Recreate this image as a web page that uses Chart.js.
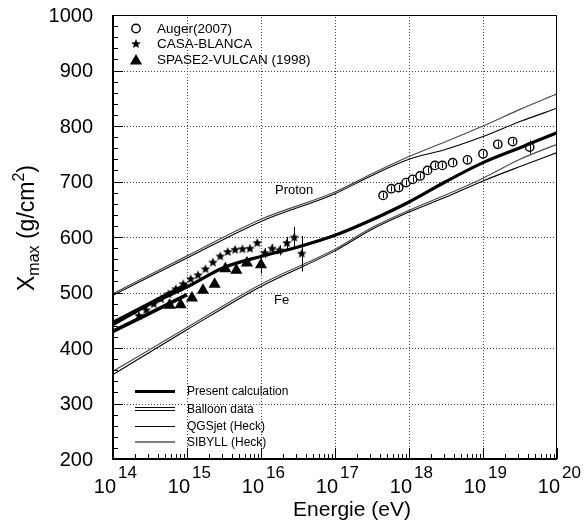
<!DOCTYPE html>
<html><head><meta charset="utf-8">
<script src="https://cdn.jsdelivr.net/npm/chart.js@4/dist/chart.umd.min.js"></script>
<style>html,body{margin:0;padding:0;background:#fff;}canvas{display:block}</style>
</head><body>
<canvas id="c" width="584" height="520"></canvas>
<script>
// ---------- data (energies as log10(E/eV), Xmax in g/cm^2) ----------
const xTickExps = [14, 15, 16, 17, 18, 19, 20];
const yTickValues = [200, 300, 400, 500, 600, 700, 800, 900, 1000];

const presentLogE = [14, 14.5, 15, 15.5, 16, 16.5, 17, 17.5, 18, 18.5, 19, 19.5, 20];
const presentXmax = [442, 479, 510, 545, 565, 582, 603, 631, 663, 700, 734, 761, 788];

const balloonLogE = [14, 15];
const balloonUpper = [446, 515];
const balloonLower = [430, 496];

const modelLogE = [14, 15, 16, 17, 17.5, 18, 18.5, 19, 19.5, 20];
const protonSibyll = [498, 566, 632, 681, 714, 745, 772, 800, 830, 858];
const protonQgsjet = [495, 562, 628, 678, 711, 740, 758, 781, 808, 832];
const ironSibyll = [358, 437, 515, 578, 617, 648, 676, 706, 740, 767];
const ironQgsjet = [352, 433, 511, 575, 614, 645, 672, 701, 727, 752];

const augerLogE = [17.65, 17.76, 17.86, 17.96, 18.05, 18.15, 18.25, 18.35, 18.45, 18.59, 18.79, 19.0, 19.2, 19.4, 19.63];
const augerXmax = [675, 687, 689, 698, 704, 710, 720, 729, 729, 734, 739, 750, 767, 772, 762];
const augerErr  = [5, 5, 5, 5, 5, 5, 5, 5, 5, 5, 5, 5, 5, 5, 12];

const casaLogE = [14.35, 14.45, 14.55, 14.65, 14.75, 14.85, 14.95, 15.05, 15.15, 15.25, 15.35, 15.45, 15.55, 15.65, 15.75, 15.85, 15.95, 16.05, 16.15, 16.25, 16.35, 16.45, 16.55];
const casaXmax = [458, 468, 479, 488, 497, 506, 515, 524, 531, 542, 554, 565, 573, 577, 578, 579, 589, 571, 579, 576, 589, 599, 570];
const casaErr  = [0, 0, 0, 0, 0, 0, 0, 0, 0, 0, 0, 0, 0, 0, 0, 0, 0, 9, 8, 9, 11, 19, 32];

const spaseLogE = [14.765, 14.914, 15.067, 15.216, 15.373, 15.518, 15.667, 15.81, 16.0];
const spaseXmax = [477, 478, 490, 504, 515, 543, 540, 553, 550];
const spaseErr  = [0, 0, 0, 0, 0, 0, 0, 0, 16];

// ---------- helpers ----------
const pts = (le, v) => le.map((l, i) => ({ x: Math.pow(10, l), y: v[i] }));
const FONT = '"Liberation Sans", Arial, Helvetica, sans-serif';
const SIB_COLOR = '#4a4a4a';

function makeStar(r) {
  const c = document.createElement('canvas');
  const s = Math.ceil(r * 2 + 2);
  c.width = c.height = s;
  const g = c.getContext('2d');
  g.beginPath();
  for (let i = 0; i < 10; i++) {
    const a = -Math.PI / 2 + i * Math.PI / 5;
    const rr = (i % 2) ? r * 0.45 : r;
    g.lineTo(s / 2 + rr * Math.cos(a), s / 2 + rr * Math.sin(a));
  }
  g.closePath();
  g.fillStyle = '#000';
  g.fill();
  return c;
}
const starImg = makeStar(5);

const lineDs = (label, data, color, width) => ({
  label, data, borderColor: color, borderWidth: width, pointRadius: 0,
  fill: false, cubicInterpolationMode: 'monotone', backgroundColor: color
});

const datasets = [
  lineDs('Balloon upper outer', pts(balloonLogE, balloonUpper), '#000', 3.6),
  lineDs('Balloon upper inner', pts(balloonLogE, balloonUpper), '#fff', 1.4),
  lineDs('Balloon lower outer', pts(balloonLogE, balloonLower), '#000', 3.6),
  lineDs('Balloon lower inner', pts(balloonLogE, balloonLower), '#fff', 1.4),
  lineDs('Proton SIBYLL', pts(modelLogE, protonSibyll), SIB_COLOR, 1.2),
  lineDs('Proton QGSjet', pts(modelLogE, protonQgsjet), '#000', 1.1),
  lineDs('Fe SIBYLL', pts(modelLogE, ironSibyll), SIB_COLOR, 1.2),
  lineDs('Fe QGSjet', pts(modelLogE, ironQgsjet), '#000', 1.1),
  lineDs('Present calculation', pts(presentLogE, presentXmax), '#000', 3.2),
  { label: 'Auger(2007)', data: pts(augerLogE, augerXmax), showLine: false,
    pointStyle: 'circle', pointRadius: 4.2, pointBorderWidth: 1.4,
    pointBorderColor: '#000', pointBackgroundColor: '#fff', errs: augerErr },
  { label: 'CASA-BLANCA', data: pts(casaLogE, casaXmax), showLine: false,
    pointStyle: starImg, pointRadius: 5, errs: casaErr },
  { label: 'SPASE2-VULCAN (1998)', data: pts(spaseLogE, spaseXmax), showLine: false,
    pointStyle: 'triangle', pointRadius: 7, pointBorderWidth: 0,
    pointBackgroundColor: '#000', pointBorderColor: '#000', errs: spaseErr }
];

// dotted lines drawn as 1px dots
function dotsH(ctx, x0, x1, py) { for (let xx = x0 + 2; xx < x1 - 1; xx += 3) ctx.fillRect(xx, py, 1, 1); }
function dotsV(ctx, y0, y1, px) { for (let yy = y0 + 2; yy < y1 - 1; yy += 3) ctx.fillRect(px, yy, 1, 1); }

// ---------- plugin: grid, frame, ticks, labels, legends, error bars ----------
const deco = {
  id: 'deco',
  beforeDatasetsDraw(chart) {
    const ctx = chart.ctx, a = chart.chartArea, x = chart.scales.x, y = chart.scales.y;
    ctx.save();
    ctx.fillStyle = '#444';
    xTickExps.slice(1, -1).forEach(e => {
      const px = Math.round(x.getPixelForValue(Math.pow(10, e)));
      dotsV(ctx, Math.round(a.top), Math.round(a.bottom), px);
    });
    yTickValues.slice(1, -1).forEach(v => {
      const py = Math.round(y.getPixelForValue(v));
      dotsH(ctx, Math.round(a.left), Math.round(a.right), py);
    });
    ctx.restore();
  },
  afterDatasetsDraw(chart) {
    const ctx = chart.ctx, a = chart.chartArea, x = chart.scales.x, y = chart.scales.y;
    ctx.save();
    // error bars
    ctx.save();
    ctx.beginPath(); ctx.rect(a.left, a.top, a.right - a.left, a.bottom - a.top); ctx.clip();
    ctx.fillStyle = '#000';
    chart.data.datasets.forEach(ds => {
      if (!ds.errs) return;
      ds.data.forEach((p, i) => {
        const e = ds.errs[i];
        if (!e) return;
        const px = Math.round(x.getPixelForValue(p.x));
        const y0 = y.getPixelForValue(p.y + e), y1 = y.getPixelForValue(p.y - e);
        ctx.fillRect(px, y0, 1, y1 - y0);
      });
    });
    ctx.restore();

    ctx.fillStyle = '#000';
    const L = Math.round(a.left), R = Math.round(a.right), T = Math.round(a.top), B = Math.round(a.bottom);
    // frame
    ctx.fillRect(L - 1, T, 2, B - T + 1);
    ctx.fillRect(R - 1, T, 1, B - T + 1);
    ctx.fillRect(L - 1, T, R - L + 1, 1);
    ctx.fillRect(L - 1, B - 1, R - L + 1, 2);

    // y ticks (inside): major every 100, minor every 20
    for (let v = yTickValues[0]; v <= yTickValues[yTickValues.length - 1]; v += 20) {
      const py = Math.round(y.getPixelForValue(v));
      const major = (v % 100 === 0);
      ctx.fillRect(L, py, major ? 10 : 5, 1);
    }
    // x ticks (inside): decades major, 2..9 minor
    for (let k = 0; k < xTickExps.length; k++) {
      const e = xTickExps[k];
      const px = Math.round(x.getPixelForValue(Math.pow(10, e)));
      ctx.fillRect(px, B - 11, 1, 11);
      if (k < xTickExps.length - 1) {
        for (let m = 2; m <= 9; m++) {
          const pm = Math.round(x.getPixelForValue(m * Math.pow(10, e)));
          ctx.fillRect(pm, B - 5, 1, 5);
        }
      }
    }

    // y tick labels
    ctx.font = '20px ' + FONT;
    ctx.textAlign = 'right'; ctx.textBaseline = 'middle';
    yTickValues.forEach(v => ctx.fillText(String(v), 93, y.getPixelForValue(v) + 1));
    // x tick labels 10^n
    xTickExps.forEach(e => {
      const px = x.getPixelForValue(Math.pow(10, e));
      ctx.textBaseline = 'alphabetic';
      ctx.font = '20px ' + FONT; ctx.textAlign = 'right';
      ctx.fillText('10', px + 3, 493);
      ctx.font = '17px ' + FONT; ctx.textAlign = 'left';
      ctx.fillText(String(e), px + 5, 478);
    });

    // axis titles
    ctx.font = '21px ' + FONT; ctx.textAlign = 'center'; ctx.textBaseline = 'alphabetic';
    ctx.fillText('Energie (eV)', 352, 516);

    ctx.save();
    ctx.translate(34, 228);
    ctx.rotate(-Math.PI / 2);
    const parts = [
      { t: 'X', f: '23px ', dy: 0 },
      { t: 'max', f: '16px ', dy: 5 },
      { t: ' (g/cm', f: '23px ', dy: 0 },
      { t: '2', f: '16px ', dy: -10 },
      { t: ')', f: '23px ', dy: 0 }
    ];
    let total = 0;
    parts.forEach(p => { ctx.font = p.f + FONT; p.w = ctx.measureText(p.t).width; total += p.w; });
    let cx = -total / 2;
    ctx.textAlign = 'left';
    parts.forEach(p => { ctx.font = p.f + FONT; ctx.fillText(p.t, cx, p.dy); cx += p.w; });
    ctx.restore();

    // curve labels
    ctx.font = '13px ' + FONT; ctx.textAlign = 'left'; ctx.textBaseline = 'middle';
    ctx.fillText('Proton', 275, 190);
    ctx.fillText('Fe', 274, 300);

    // top legend (markers)
    const mx = 136;
    ctx.font = '13.5px ' + FONT;
    ctx.beginPath(); ctx.arc(mx, 28.5, 4.2, 0, Math.PI * 2);
    ctx.fillStyle = '#fff'; ctx.fill(); ctx.lineWidth = 1.4; ctx.strokeStyle = '#000'; ctx.stroke();
    ctx.fillStyle = '#000';
    ctx.fillText(datasets[9].label, 157, 29);
    ctx.drawImage(starImg, mx - starImg.width / 2, 44 - starImg.height / 2);
    ctx.fillText(datasets[10].label, 157, 44.5);
    const tr = 7, ty = 61;
    ctx.beginPath();
    for (let i = 0; i < 3; i++) {
      const ang = i * 2 * Math.PI / 3;
      ctx.lineTo(mx + Math.sin(ang) * tr, ty - Math.cos(ang) * tr);
    }
    ctx.closePath(); ctx.fill();
    ctx.fillText(datasets[11].label, 157, 60.5);

    // bottom legend (lines)
    const lx0 = 135, lx1 = 175, tx = 187;
    ctx.font = '12px ' + FONT;
    const row = (yy, label, drawFn) => { drawFn(yy); ctx.fillStyle = '#000'; ctx.fillText(label, tx, yy + 0.5); };
    const seg = (yy, color, w) => { ctx.fillStyle = color; ctx.fillRect(lx0, Math.round(yy - w / 2), lx1 - lx0, w); };
    row(391, 'Present calculation', yy => seg(yy, '#000', 3));
    row(409, 'Balloon data', yy => { seg(yy, '#000', 4); seg(yy, '#fff', 2); });
    row(426, 'QGSjet (Heck)', yy => seg(yy, '#000', 1));
    row(442, 'SIBYLL (Heck)', yy => seg(yy, '#808080', 2));
    ctx.restore();
  }
};

new Chart(document.getElementById('c'), {
  type: 'line',
  data: { datasets },
  options: {
    responsive: false,
    animation: false,
    devicePixelRatio: 1,
    events: [],
    layout: { padding: { left: 113, right: 27, top: 15, bottom: 61 } },
    plugins: { legend: { display: false }, tooltip: { enabled: false } },
    scales: {
      x: { type: 'logarithmic', min: 1e14, max: 1e20, display: false },
      y: { type: 'linear', min: 200, max: 1000, display: false }
    }
  },
  plugins: [deco]
});
</script>
</body></html>
